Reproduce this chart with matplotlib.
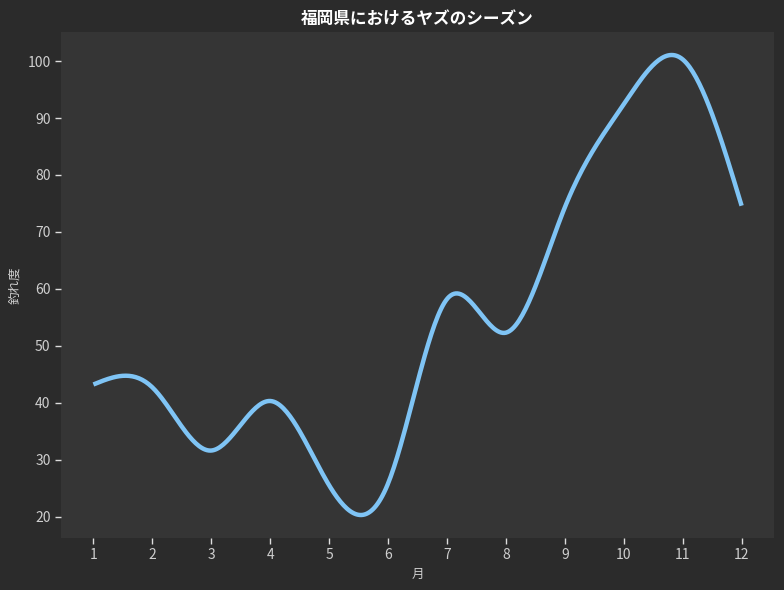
import numpy as np
import matplotlib
matplotlib.use("Agg")
import matplotlib.pyplot as plt

plt.rcParams['font.family'] = ['Noto Sans CJK JP', 'DejaVu Sans']

months = [1, 2, 3, 4, 5, 6, 7, 8, 9, 10, 11, 12]
catch_rate = [43.2, 42.7, 31.6, 40.3, 25.5, 25.8, 58.2, 52.3, 74.3, 92.4, 100.3, 74.6]
title = "福岡県におけるヤズのシーズン"
xlabel = "月"
ylabel = "釣れ度"


def cubic_spline(x, y, xs, bc='natural'):
    x = np.asarray(x, float)
    y = np.asarray(y, float)
    n = len(x) - 1
    A = np.zeros((4 * n, 4 * n))
    b = np.zeros(4 * n)
    r = 0
    for i in range(n):
        h = x[i + 1] - x[i]
        A[r, 4 * i] = 1; b[r] = y[i]; r += 1
        A[r, 4 * i:4 * i + 4] = [1, h, h ** 2, h ** 3]; b[r] = y[i + 1]; r += 1
    for i in range(n - 1):
        h = x[i + 1] - x[i]
        A[r, 4 * i:4 * i + 4] = [0, 1, 2 * h, 3 * h ** 2]
        A[r, 4 * (i + 1) + 1] = -1; r += 1
        A[r, 4 * i:4 * i + 4] = [0, 0, 2, 6 * h]
        A[r, 4 * (i + 1) + 2] = -2; r += 1
    if bc == 'natural':
        A[r, 2] = 2; r += 1
        h = x[n] - x[n - 1]
        A[r, 4 * (n - 1):4 * n] = [0, 0, 2, 6 * h]; r += 1
    else:
        A[r, 3] = 1; A[r, 7] = -1; r += 1
        A[r, 4 * (n - 2) + 3] = 1; A[r, 4 * (n - 1) + 3] = -1; r += 1
    c = np.linalg.solve(A, b)
    idx = np.clip(np.searchsorted(x, xs, side='right') - 1, 0, n - 1)
    t = xs - x[idx]
    return c[4 * idx] + c[4 * idx + 1] * t + c[4 * idx + 2] * t ** 2 + c[4 * idx + 3] * t ** 3


xs = np.linspace(months[0], months[-1], 400)
ys = cubic_spline(months, catch_rate, xs, bc='natural')

fig = plt.figure(figsize=(7.84, 5.90), dpi=100, facecolor='#2b2b2b')
ax = fig.add_axes([61 / 784, 1 - 538 / 590, (774 - 61) / 784, (538 - 32) / 590])
ax.set_facecolor('#353535')
ax.plot(xs, ys, color='#7fc4f5', linewidth=3.2, solid_capstyle='butt')
ax.set_xticks(months)
ax.set_yticks([20, 30, 40, 50, 60, 70, 80, 90, 100])
for s in ax.spines.values():
    s.set_visible(False)
ax.tick_params(colors='#dddddd', labelcolor='#cfcfcf', labelsize=10, length=4, width=1)
ax.set_xlabel(xlabel, color='#cfcfcf', fontsize=9)
ax.set_ylabel(ylabel, color='#cfcfcf', fontsize=9)
ax.set_title(title, color='white', fontsize=12, fontweight='bold', pad=6)

fig.savefig('out.png', dpi=100, facecolor=fig.get_facecolor())
